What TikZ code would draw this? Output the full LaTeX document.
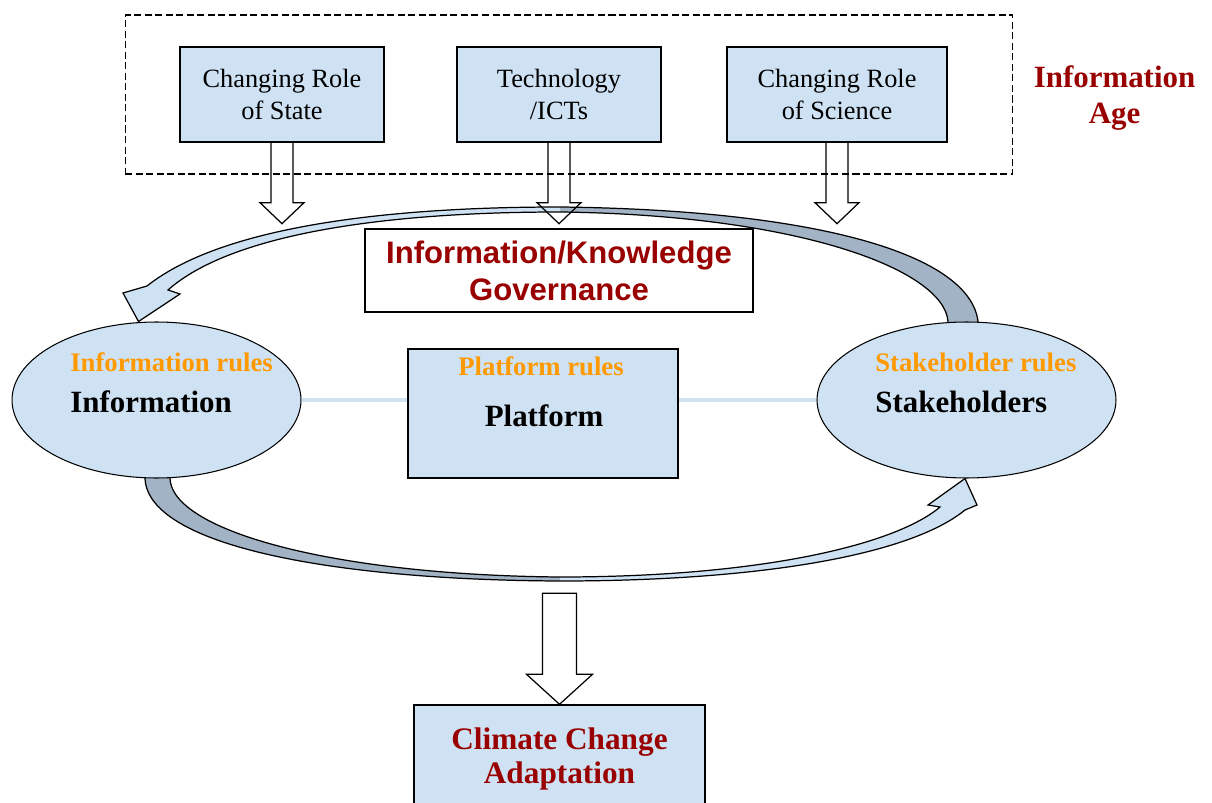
\documentclass[tikz,border=0pt]{standalone}
\usepackage{fontspec}
\setmainfont{Liberation Serif}
\newfontfamily\govfont{Liberation Sans}
\usetikzlibrary{shapes.geometric, calc, positioning, backgrounds}
\definecolor{boxblue}{HTML}{CFE2F3}
\definecolor{darkred}{HTML}{990000}
\definecolor{ruleorange}{HTML}{FF9900}
\definecolor{bandgrey}{HTML}{A2B3C5}
\tikzset{
  topbox/.style={draw, fill=boxblue, line width=0.8pt, minimum height=1.9cm, inner sep=2pt, align=center, font=\fontsize{15}{18}\selectfont},
  hub/.style={ellipse, draw, fill=boxblue, line width=0.6pt, minimum height=3.12cm},
  rulestext/.style={inner sep=0pt, text=ruleorange, font=\bfseries\fontsize{15.2}{18}\selectfont},
  hubtext/.style={inner sep=0pt, font=\bfseries\fontsize{17.6}{20}\selectfont},
  blockarr/.style={draw, line width=0.7pt, line join=miter},
  bandlight/.style={fill=boxblue},
  banddark/.style={fill=bandgrey},
  bandline/.style={draw, line width=0.7pt},
  link/.style={draw=boxblue, line width=2.8pt}
}

\begin{document}
\begin{tikzpicture}[x=0.02cm, y=-0.02cm]
  \useasboundingbox (0,0) rectangle (1212,803);

  % information age drivers
  \node[draw, dash pattern=on 4pt off 2pt, line width=0.6pt, minimum width=17.76cm, minimum height=3.18cm] (agebox) at (569,94.5) {};
  \node[topbox, minimum width=4.08cm] (state) at (282,94.5) {Changing Role\\of State};
  \node[topbox, minimum width=4.08cm] (ict) at (559,94.5) {Technology\\/ICTs};
  \node[topbox, minimum width=4.4cm] (science) at (837,94.5) {Changing Role\\of Science};
  \node[right=0.4cm of agebox, yshift=-2pt, inner sep=0pt, align=center, text=darkred, font=\bfseries\fontsize{17.6}{21}\selectfont] (agelabel) {Information\\Age};

  % governance
  \node[draw, fill=white, line width=0.8pt, minimum width=7.76cm, minimum height=1.66cm, align=center, text=darkred, font=\govfont\bfseries\fontsize{17.7}{21}\selectfont] (gov) at (559,270.5) {\rule[-3pt]{0pt}{3pt}Information/Knowledge\\Governance};

  % hubs
  \node[hub, minimum width=5.78cm] (info) at (156.5,400) {};
  \node[hub, minimum width=5.98cm] (stake) at (966.5,400) {};
  \node[draw, fill=boxblue, line width=0.8pt, minimum width=5.4cm, minimum height=2.58cm] (platform) at (543,413.5) {};

  \node[rulestext, anchor=base west] (infoR) at ($(info.center)+(-86.5,-28)$) {Information rules};
  \node[hubtext, anchor=base west] (infoT) at ($(info.center)+(-86.5,12)$) {Information};
  \node[rulestext, anchor=base west] (stakeR) at ($(stake.center)+(-91.5,-28)$) {Stakeholder rules};
  \node[hubtext, anchor=base west] (stakeT) at ($(stake.center)+(-91.5,12)$) {Stakeholders};
  \node[rulestext, anchor=base] (platR) at ($(platform.center)+(-2,-37.5)$) {Platform rules};
  \node[hubtext, anchor=base] (platT) at ($(platform.center)+(1,12.5)$) {Platform};

  % outcome
  \node[draw, fill=boxblue, line width=0.8pt, minimum width=5.82cm, minimum height=2.16cm, align=center, text=darkred, font=\bfseries\fontsize{17.8}{19.5}\selectfont] (climate) at (559.5,759) {Climate Change\\Adaptation};

  % block arrows
  \foreach \n in {state,ict,science}
    \draw[blockarr] ($(\n.south)+(-11,0)$) -- ++(0,60) -- ++(-11,0) -- ++(22,21) -- ++(22,-21) -- ++(-11,0) -- ++(0,-60);
  \draw[blockarr] (climate.north) -- ++(-33,-30) -- ++(16,0) -- ++(0,-81) -- ++(34,0) -- ++(0,81) -- ++(16,0) -- cycle;

  \begin{scope}[on background layer]
    \draw[link] (info.east) -- (info.east -| platform.west);
    \draw[link] (platform.east |- stake.west) -- (stake.west);

    % top loop: stakeholders -> information
    \fill[banddark] ($(stake.north)+(-18.5,4)$) -- ($(stake.north)+(11.5,4)$) -- ++(0,-4) .. controls (970,255) and (820,210) .. (560,207) -- (560,212) .. controls (800,215) and (944,270) .. ($(stake.north)+(-18.5,0)$) -- cycle;
    \fill[bandlight] (560,207) .. controls (380,207) and (220,228) .. (147,286) -- (123,293) -- ($(info.north)+(-18,0)$) -- (180,294) -- (168,290) .. controls (230,235) and (380,212) .. (560,212) -- cycle;
    \draw[bandline] ($(stake.north)+(-18.5,4)$) -- ($(stake.north)+(11.5,4)$) -- ++(0,-4) .. controls (970,255) and (820,210) .. (560,207) .. controls (380,207) and (220,228) .. (147,286) -- (123,293) -- ($(info.north)+(-18,0)$) -- (180,294) -- (168,290) .. controls (230,235) and (380,212) .. (560,212) .. controls (800,215) and (944,270) .. ($(stake.north)+(-18.5,0)$) -- cycle;

    % bottom loop: information -> stakeholders
    \fill[banddark] ($(info.south)+(-11.5,-4)$) -- ($(info.south)+(13.5,-4)$) -- ++(0,4) .. controls (172,530) and (330,575) .. (560,577) -- (560,581) .. controls (330,580) and (148,545) .. ($(info.south)+(-11.5,0)$) -- cycle;
    \fill[bandlight] (560,581) .. controls (760,581) and (910,555) .. (965,510) -- (977,505) -- ($(stake.south)+(-1.5,0)$) -- (928,505) -- (940,507) .. controls (895,545) and (760,577) .. (560,577) -- cycle;
    \draw[bandline] ($(info.south)+(13.5,-4)$) -- ++(0,4) .. controls (172,530) and (330,575) .. (560,577) .. controls (760,577) and (895,545) .. (940,507) -- (928,505) -- ($(stake.south)+(-1.5,0)$) -- (977,505) -- (965,510) .. controls (910,555) and (760,581) .. (560,581) .. controls (330,580) and (148,545) .. ($(info.south)+(-11.5,0)$) -- ++(0,-4) -- cycle;
  \end{scope}
\end{tikzpicture}
\end{document}
